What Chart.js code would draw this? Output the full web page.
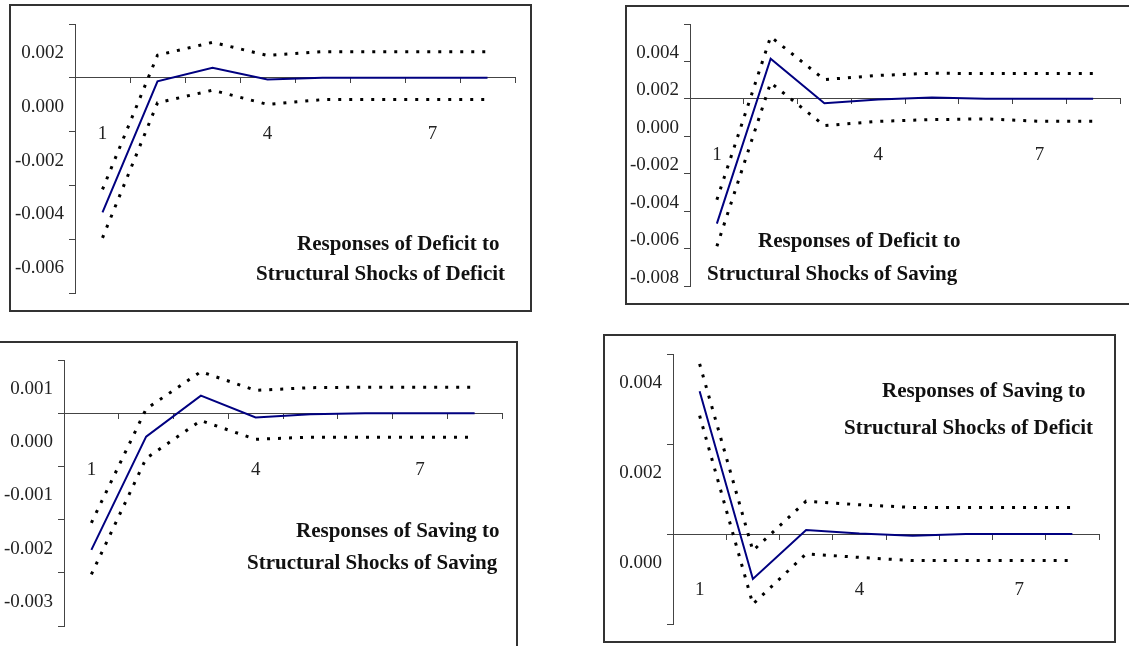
<!DOCTYPE html>
<html>
<head>
<meta charset="utf-8">
<script src="https://cdn.jsdelivr.net/npm/chart.js@4.4.1/dist/chart.umd.min.js"></script>
<style>
  body { margin: 0; width: 1129px; height: 646px; overflow: hidden; background: #fff; position: relative; }
  .box { position: absolute; border: 2px solid #333; box-sizing: border-box; }
  canvas { position: absolute; }
  .cap { position: absolute; font: bold 21px 'Liberation Serif', serif; color: #111; white-space: nowrap; line-height: 24px; }
</style>
</head>
<body>
<div class="box" style="left:9px;top:4px;width:523px;height:308px"></div>
<div class="box" style="left:625px;top:5px;width:515px;height:300px"></div>
<div class="box" style="left:-10px;top:341px;width:528px;height:320px"></div>
<div class="box" style="left:603px;top:334px;width:513px;height:309px"></div>

<canvas id="defDef"></canvas>
<canvas id="defSav"></canvas>
<canvas id="savSav"></canvas>
<canvas id="savDef"></canvas>

<div class="cap" style="left:297px;top:231px">Responses of Deficit to</div>
<div class="cap" style="left:256px;top:261px">Structural Shocks of Deficit</div>
<div class="cap" style="left:758px;top:228px">Responses of Deficit to</div>
<div class="cap" style="left:707px;top:261px">Structural Shocks of Saving</div>
<div class="cap" style="left:296px;top:518px">Responses of Saving to</div>
<div class="cap" style="left:247px;top:550px">Structural Shocks of Saving</div>
<div class="cap" style="left:882px;top:378px">Responses of Saving to</div>
<div class="cap" style="left:844px;top:415px">Structural Shocks of Deficit</div>

<script>
// periods after the shock
var periods = ['1', '2', '3', '4', '5', '6', '7', '8'];
var periodLabels = ['1', '', '', '4', '', '', '7', ''];

// deficit to deficit shock
var defDefResp  = [-0.00500, -0.00013, 0.00037, -0.00006, 0.00000, 0.00000, 0.00000, 0.00000];
var defDefUpper = [-0.00415, 0.00084, 0.00132, 0.00083, 0.00097, 0.00097, 0.00097, 0.00097];
var defDefLower = [-0.00595, -0.00093, -0.00046, -0.00099, -0.00081, -0.00081, -0.00081, -0.00081];
var defDefAxis  = [-0.008, 0.002, 0.002];   // min, max, step

// deficit to saving shock
var defSavResp  = [-0.00667, 0.00214, -0.00024, -0.00004, 0.00007, 0.00000, 0.00000, 0.00000];
var defSavUpper = [-0.00539, 0.00332, 0.00103, 0.00125, 0.00137, 0.00135, 0.00135, 0.00135];
var defSavLower = [-0.00788, 0.00086, -0.00143, -0.00120, -0.00111, -0.00107, -0.00120, -0.00120];
var defSavAxis  = [-0.010, 0.004, 0.002];

// saving to saving shock
var savSavResp  = [-0.00257, -0.00044, 0.00033, -0.00008, -0.00002, 0.00000, 0.00000, 0.00000];
var savSavUpper = [-0.00206, 0.00008, 0.00078, 0.00043, 0.00048, 0.00049, 0.00049, 0.00049];
var savSavLower = [-0.00303, -0.00085, -0.00014, -0.00049, -0.00045, -0.00045, -0.00045, -0.00045];
var savSavAxis  = [-0.004, 0.001, 0.001];

// saving to deficit shock
var savDefResp  = [0.00317, -0.00100, 0.00009, 0.00001, -0.00004, 0.00000, 0.00000, 0.00000];
var savDefUpper = [0.00378, -0.00037, 0.00073, 0.00065, 0.00059, 0.00059, 0.00059, 0.00059];
var savDefLower = [0.00263, -0.00156, -0.00044, -0.00052, -0.00059, -0.00059, -0.00059, -0.00059];
var savDefAxis  = [-0.002, 0.004, 0.002];

Chart.defaults.font.family = "'Liberation Serif', serif";

function makeChart(id, resp, upper, lower, yAxis, area) {
    var padL = 80, padT = 25, padR = 20, padB = 25;
    var cv = document.getElementById(id);
    cv.width = (area.right - area.left) + padL + padR;
    cv.height = (area.bottom - area.top) + padT + padB;
    cv.style.left = (area.left - padL) + 'px';
    cv.style.top = (area.top - padT) + 'px';
    var band = { borderColor: '#000', borderWidth: 3, borderDash: [3, 8] };
    new Chart(cv, {
        type: 'line',
        data: {
            labels: periods,
            datasets: [
                { data: resp, borderColor: '#000080', borderWidth: 2, order: 0 },
                Object.assign({ data: upper, order: 1 }, band),
                Object.assign({ data: lower, order: 2 }, band)
            ]
        },
        options: {
            responsive: false,
            animation: false,
            layout: { padding: { left: 0, top: padT, right: padR, bottom: padB } },
            elements: { point: { radius: 0 }, line: { tension: 0, fill: false } },
            plugins: { legend: { display: false }, tooltip: { enabled: false } },
            scales: {
                x: {
                    type: 'category',
                    position: { y: 0 },
                    offset: true,
                    grid: { drawOnChartArea: false, offset: true, tickLength: 5, color: '#444' },
                    border: { color: '#444' },
                    ticks: {
                        autoSkip: false, maxRotation: 0, padding: 40, color: '#222',
                        font: { size: 19 },
                        callback: function (v, i) { return periodLabels[i]; }
                    }
                },
                y: {
                    min: yAxis[0],
                    max: yAxis[1],
                    afterFit: function (s) { s.width = padL; },
                    grid: { drawOnChartArea: false, tickLength: 6, color: '#444' },
                    border: { color: '#444' },
                    ticks: {
                        stepSize: yAxis[2], labelOffset: 29, padding: 5, color: '#222',
                        font: { size: 19 },
                        callback: function (v) {
                            if (Math.abs(v - yAxis[0]) < 1e-9) return '';
                            if (Math.abs(v) < 1e-9) v = 0;
                            return v.toFixed(3);
                        }
                    }
                }
            }
        }
    });
}

makeChart('defDef', defDefResp, defDefUpper, defDefLower, defDefAxis, { left: 75, top: 24, right: 515, bottom: 293 });
makeChart('defSav', defSavResp, defSavUpper, defSavLower, defSavAxis, { left: 690, top: 24, right: 1120, bottom: 286 });
makeChart('savSav', savSavResp, savSavUpper, savSavLower, savSavAxis, { left: 64, top: 360, right: 502, bottom: 626 });
makeChart('savDef', savDefResp, savDefUpper, savDefLower, savDefAxis, { left: 673, top: 354, right: 1099, bottom: 624 });
</script>
</body>
</html>
